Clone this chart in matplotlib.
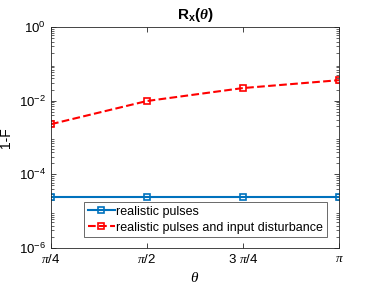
import numpy as np
import matplotlib.pyplot as plt

# data
theta = [np.pi/4, np.pi/2, 3*np.pi/4, np.pi]
xticklabels = [r'$\pi$/4', r'$\pi$/2', r'3 $\pi$/4', r'$\pi$']
realistic = [2.4e-5, 2.4e-5, 2.4e-5, 2.4e-5]
disturbed = [2.3e-3, 9.8e-3, 2.2e-2, 3.6e-2]

plt.rcParams['font.family'] = ['Liberation Sans', 'DejaVu Sans']
plt.rcParams['mathtext.fontset'] = 'custom'
plt.rcParams['mathtext.rm'] = 'Liberation Sans'
plt.rcParams['mathtext.bf'] = 'Liberation Sans:bold'
plt.rcParams['mathtext.it'] = 'Liberation Serif:italic'
plt.rcParams['mathtext.bfit'] = 'Liberation Serif:italic:bold'

fig = plt.figure(figsize=(3.74, 2.86), dpi=100)
ax = fig.add_axes([51/374, 1 - 248/286, 288/374, 221/286])

ax.semilogy(theta, realistic, '-s', color='#0072BD', lw=1.5, ms=4,
            mfc='none', mew=1.2, label='realistic pulses')
ax.semilogy(theta, disturbed, '--s', color='#FF0000', lw=1.5, ms=4,
            mfc='none', mew=1.2, label='realistic pulses and input disturbance')

ax.set_xlim(np.pi/4, np.pi)
ax.set_ylim(1e-6, 1)
ax.set_xticks(theta)
ax.set_xticklabels(xticklabels)
ax.set_yticks([1e-6, 1e-4, 1e-2, 1])
ax.tick_params(labelsize=9.5, direction='in', top=True, right=True, color='#262626', width=0.6)
ax.tick_params(which='minor', direction='in', right=True, color='#262626', width=0.5)
for s in ax.spines.values():
    s.set_color('#262626')
    s.set_linewidth(0.6)

ax.set_xlabel(r'$\theta$', fontsize=11)
ax.set_ylabel('1-F', fontsize=10)
ax.set_title(r'$\mathbf{R}_{\mathbf{x}}\mathbf{(}\boldsymbol{\theta}\mathbf{)}$', fontsize=11)

leg = ax.legend(loc='lower right', bbox_to_anchor=(0.98, 0.02), fontsize=9,
                fancybox=False, edgecolor='#262626', handlelength=2.2, numpoints=1,
                borderpad=0.3, labelspacing=0.3, handletextpad=0.1)
leg.get_frame().set_linewidth(0.6)

fig.savefig('out.png', dpi=100)
